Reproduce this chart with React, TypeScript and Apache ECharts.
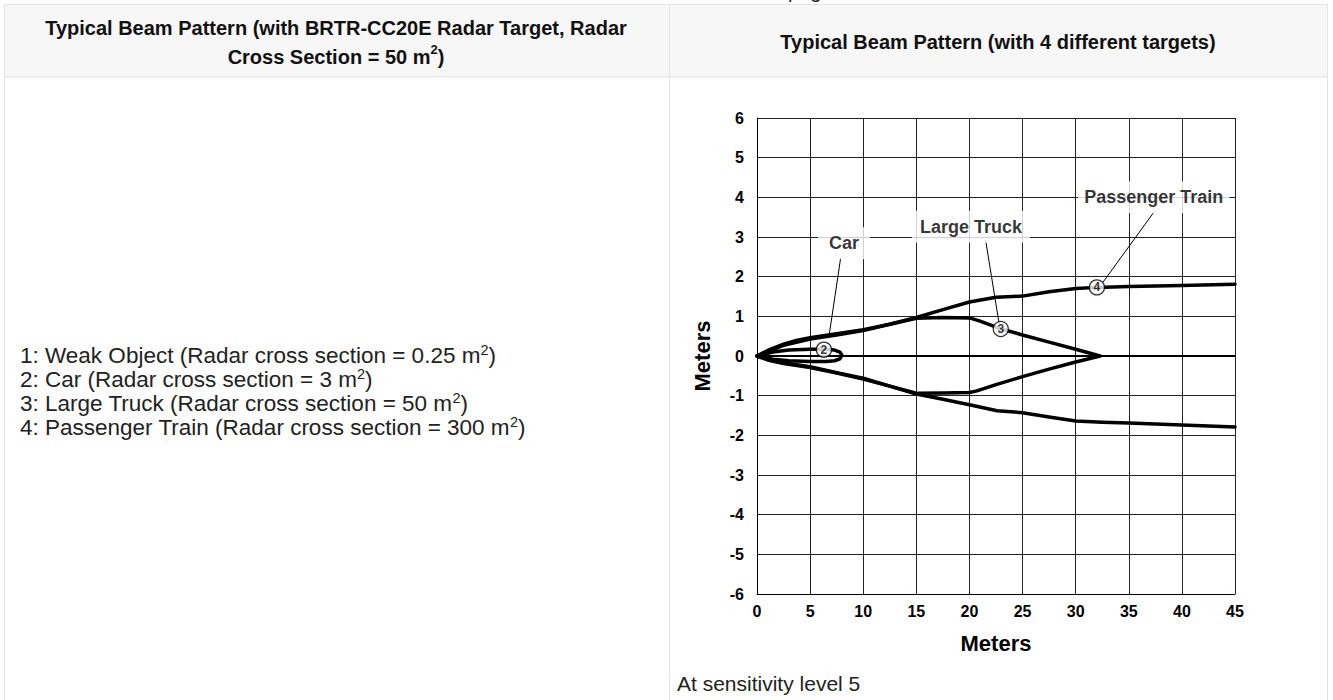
import React, { useEffect, useRef } from "react";
import * as echarts from "echarts";

// ---------- data (meters) ----------
const zeroLine = [[0, 0], [45, 0]];
const trainOutlineUpper = [
  [0, 0], [1, 0.14], [2.5, 0.3], [3.7, 0.39], [5, 0.46], [7.5, 0.56], [10, 0.66], [12.5, 0.8],
  [15, 0.97], [17.5, 1.17], [20, 1.36], [22.5, 1.48], [25, 1.51], [27.5, 1.62], [30, 1.7],
  [32, 1.73], [35, 1.75], [40, 1.78], [45, 1.81],
];
const trainOutlineLower = [
  [0, 0], [1, -0.1], [2.5, -0.19], [5, -0.29], [7.5, -0.43], [10, -0.58], [12.5, -0.76],
  [15, -0.96], [17.5, -1.09], [20, -1.23], [22.6, -1.38], [25, -1.43], [27.5, -1.54],
  [30, -1.64], [32.5, -1.67], [35, -1.69], [40, -1.74], [45, -1.79],
];
const truckOutline = [
  [0, 0], [2.5, 0.27], [5, 0.43], [7.5, 0.53], [10, 0.64], [12.5, 0.8], [15, 0.95],
  [17.5, 0.97], [20, 0.96], [21, 0.88], [22.9, 0.69], [25, 0.53], [27.5, 0.35], [30, 0.17],
  [32.3, 0], [30, -0.15], [27.5, -0.33], [25, -0.52], [22.5, -0.72], [20.7, -0.88],
  [20, -0.92], [17.5, -0.93], [15, -0.94], [12.5, -0.76], [10, -0.56], [7.5, -0.42],
  [5, -0.27], [2.5, -0.17], [0, 0],
];
const carOutline = [
  [0, 0], [1.5, 0.1], [3, 0.15], [5, 0.17], [6.5, 0.17], [7.3, 0.15], [7.8, 0.1], [8, 0.02],
  [7.8, -0.07], [7.3, -0.12], [6.5, -0.14], [5, -0.14], [3, -0.12], [1.5, -0.08], [0, 0],
];
const markerNumbers = ["2", "3", "4"];
const markerPoints = [[6.3, 0.16], [22.95, 0.68], [32, 1.73]];
const calloutNames = ["Car", "Large Truck", "Passenger Train"];
const calloutPoints = [[8.2, 2.84], [20.15, 3.26], [37.35, 4.0]];
const carLeader = [[7.87, 2.46], [6.79, 0.52]];
const truckLeader = [[21.53, 2.91], [22.79, 0.82]];
const trainLeader = [[37.4, 3.64], [32.6, 1.87]];

const leftHeader = ["Typical Beam Pattern (with BRTR-CC20E Radar Target, Radar", "Cross Section = 50 m"];
const rightHeader = "Typical Beam Pattern (with 4 different targets)";
const legendLines = [
  "1: Weak Object (Radar cross section = 0.25 m",
  "2: Car (Radar cross section = 3 m",
  "3: Large Truck (Radar cross section = 50 m",
  "4: Passenger Train (Radar cross section = 300 m",
];
const footnote = "At sensitivity level 5";

const FONT = "'Liberation Sans', Arial, Helvetica, sans-serif";

function curve(name: string, data: number[][], width: number) {
  return {
    name,
    type: "line",
    data,
    showSymbol: false,
    symbol: "none",
    silent: true,
    lineStyle: { color: "#000", width, cap: "round", join: "round" },
    z: 3,
  };
}

export default function App() {
  const ref = useRef<HTMLDivElement>(null);
  useEffect(() => {
    const chart = echarts.init(ref.current!, null, { renderer: "svg" });
    const supRich = {
      n: { fontSize: 22.5, fontFamily: FONT, fill: "#222", lineHeight: 26 },
      s: { fontSize: 14.5, fontFamily: FONT, fill: "#222", verticalAlign: "top", lineHeight: 26 },
      nb: { fontSize: 20, fontFamily: FONT, fontWeight: "bold", fill: "#111", lineHeight: 28 },
      sb: { fontSize: 13, fontFamily: FONT, fontWeight: "bold", fill: "#111", verticalAlign: "top", lineHeight: 28 },
    };
    const graphics: any[] = [
      { type: "rect", shape: { x: 4.5, y: 4.5, width: 1323, height: 72.5 }, style: { fill: "#f7f7f7", stroke: "#e4e4e4", lineWidth: 1 }, z: -10 },
      { type: "rect", shape: { x: 4.5, y: 77, width: 1323, height: 640 }, style: { fill: "#fff", stroke: "#e4e4e4", lineWidth: 1 }, z: -10 },
      { type: "line", shape: { x1: 669.5, y1: 4.5, x2: 669.5, y2: 700 }, style: { stroke: "#e4e4e4", lineWidth: 1 }, z: -9 },
      { type: "text", x: 788, y: 1, style: { text: "page", fontSize: 20, fontFamily: FONT, fill: "#222", verticalAlign: "bottom" }, z: -8 },
      { type: "text", x: 336, y: 28, style: { text: leftHeader[0], fontSize: 20, fontWeight: "bold", fontFamily: FONT, fill: "#111", align: "center", verticalAlign: "middle" } },
      { type: "text", x: 336, y: 57, style: { text: `{nb|${leftHeader[1]}}{sb|2}{nb|)}`, rich: supRich, align: "center", verticalAlign: "middle" } },
      { type: "text", x: 998, y: 42, style: { text: rightHeader, fontSize: 20, fontWeight: "bold", fontFamily: FONT, fill: "#111", align: "center", verticalAlign: "middle" } },
      { type: "text", x: 677, y: 683, style: { text: footnote, fontSize: 21, fontFamily: FONT, fill: "#222", align: "left", verticalAlign: "middle" } },
    ];
    legendLines.forEach((t, i) => {
      graphics.push({
        type: "text",
        x: 20,
        y: 355 + i * 24.3,
        style: { text: `{n|${t}}{s|2}{n|)}`, rich: supRich, align: "left", verticalAlign: "middle" },
      });
    });

    const option: any = {
      animation: false,
      backgroundColor: "#fff",
      textStyle: { fontFamily: FONT },
      grid: { left: 757, top: 118, width: 478, height: 476, containLabel: false },
      xAxis: {
        type: "value", min: 0, max: 45, interval: 5,
        axisLine: { show: true, onZero: false, lineStyle: { color: "#000", width: 1 } },
        axisTick: { show: false },
        axisLabel: { color: "#000", fontWeight: "bold", fontSize: 16, fontFamily: FONT, margin: 9 },
        splitLine: { show: true, lineStyle: { color: "#222", width: 1 } },
        name: "Meters", nameLocation: "middle", nameGap: 38,
        nameTextStyle: { color: "#000", fontWeight: "bold", fontSize: 22, fontFamily: FONT },
      },
      yAxis: {
        type: "value", min: -6, max: 6, interval: 1,
        axisLine: { show: true, onZero: false, lineStyle: { color: "#000", width: 1 } },
        axisTick: { show: false },
        axisLabel: { color: "#000", fontWeight: "bold", fontSize: 16, fontFamily: FONT, margin: 13 },
        splitLine: { show: true, lineStyle: { color: "#222", width: 1 } },
        name: "Meters", nameLocation: "middle", nameGap: 44, nameRotate: 90,
        nameTextStyle: { color: "#000", fontWeight: "bold", fontSize: 22, fontFamily: FONT },
      },
      graphic: graphics,
      series: [
        curve("Center", zeroLine, 2),
        curve("Passenger Train upper", trainOutlineUpper, 3.5),
        curve("Passenger Train lower", trainOutlineLower, 3.5),
        curve("Large Truck", truckOutline, 3.5),
        curve("Car", carOutline, 3.5),
        curve("Car leader", carLeader, 1),
        curve("Truck leader", truckLeader, 1),
        curve("Train leader", trainLeader, 1),
        {
          name: "markers",
          type: "scatter",
          silent: true,
          z: 5,
          symbol: "circle",
          symbolSize: 15,
          itemStyle: { color: "#fff", borderColor: "#000", borderWidth: 1.3 },
          label: {
            show: true, position: "inside", color: "#000", fontSize: 12, fontWeight: "bold", fontFamily: FONT,
            formatter: (p: any) => markerNumbers[p.dataIndex],
          },
          data: markerPoints,
        },
        {
          name: "callouts",
          type: "scatter",
          silent: true,
          z: 6,
          symbolSize: 1,
          itemStyle: { color: "rgba(0,0,0,0)" },
          label: {
            show: true, position: "inside", color: "#000", fontSize: 18, fontWeight: "bold", fontFamily: FONT,
            backgroundColor: "#fff", formatter: (p: any) => calloutNames[p.dataIndex],
          },
          data: calloutPoints.map((v, i) => ({
            value: v,
            label: { padding: i === 0 ? [7, 11] : i === 1 ? [7, 8] : [7, 6] },
          })),
        },
      ],
    };
    chart.setOption(option);
    return () => chart.dispose();
  }, []);
  return (
    <div
      ref={ref}
      style={{ position: "fixed", left: 0, top: 0, width: 1333, height: 700, background: "#fff" }}
    />
  );
}
